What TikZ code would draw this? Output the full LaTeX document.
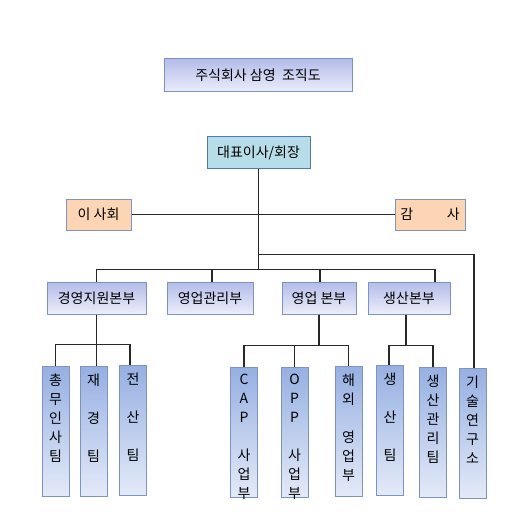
\documentclass[tikz,border=0pt]{standalone}
\usepackage{fontspec}
\setmainfont{Noto Sans CJK KR}
\usetikzlibrary{positioning,calc}
\newlength{\px}
\setlength{\px}{0.75pt}
\definecolor{headtop}{RGB}{180,188,234}
\definecolor{headbot}{RGB}{236,238,250}
\definecolor{teamtop}{RGB}{150,176,226}
\definecolor{teambot}{RGB}{228,234,248}
\definecolor{boxline}{RGB}{128,146,190}
\definecolor{ceofill}{RGB}{183,221,232}
\definecolor{ceoline}{RGB}{80,122,170}
\definecolor{sidefill}{RGB}{252,213,180}
\definecolor{linkcol}{RGB}{40,40,40}
\newcommand{\vtext}[1]{\parbox[c][116\px][t]{24\px}{\centering #1}}
\tikzset{
  basebox/.style={line width=1\px,inner sep=0pt,minimum height=32\px,
                  font=\fontsize{10.5}{14.25}\selectfont},
  headbox/.style={basebox,draw=boxline,top color=headtop,bottom color=headbot},
  ceobox/.style={basebox,draw=ceoline,fill=ceofill},
  sidebox/.style={basebox,draw=boxline,fill=sidefill,minimum height=31\px},
  teambox/.style={basebox,draw=boxline,top color=teamtop,bottom color=teambot,
                  anchor=north,minimum width=27\px,minimum height=130\px},
  link/.style={draw=linkcol,line width=1.3\px}
}

\begin{document}
\begin{tikzpicture}[x=\px,y=-\px]
  \useasboundingbox (0,0) rectangle (520,527);
  %% title
  %% ------------------------------------
  \node[headbox,minimum width=188\px,minimum height=33\px] (title) at (258,75.5)
       {주식회사 삼영\ \ 조직도};

  %% top level
  %% ------------------------------------
  \node[ceobox,minimum width=103\px] (ceo)  at (258.5,153)  {대표이사/회장};
  \node[sidebox,minimum width=65\px] (board) at (98.5,214.5) {이 사회};
  \node[sidebox,minimum width=70\px] (audit) at (430,214.5)  {감\hspace{2.4em}사};

  %% departments
  %% ------------------------------------
  \node[headbox,minimum width=99\px] (mgmt)  at (96.5,298) {경영지원본부};
  \node[headbox,minimum width=86\px] (sadm)  at (210,298)  {영업관리부};
  \node[headbox,minimum width=74\px] (sales) at (319,298)  {영업 본부};
  \node[headbox,minimum width=82\px] (prod)  at (409,298)  {생산본부};

  %% teams
  %% ------------------------------------
  \node[teambox] (gen)  at (55.5,366)  {\vtext{총\\무\\인\\사\\팀}};
  \node[teambox] (fin)  at (93.5,366)  {\vtext{재\\~\\경\\~\\팀}};
  \node[teambox] (it)   at (133,365)   {\vtext{전\\~\\산\\~\\팀}};
  \node[teambox] (cap)  at (244,367)   {\vtext{C\\A\\P\\~\\사\\업\\부}};
  \node[teambox] (opp)  at (294.5,367) {\vtext{O\\P\\P\\~\\사\\업\\부}};
  \node[teambox] (ovs)  at (348.5,366) {\vtext{해\\외\\~\\영\\업\\부}};
  \node[teambox] (mfg)  at (390,365)   {\vtext{생\\~\\산\\~\\팀}};
  \node[teambox] (pctl) at (433,367)   {\vtext{생\\산\\관\\리\\팀}};
  \node[teambox] (lab)  at (472.5,368) {\vtext{기\\술\\연\\구\\소}};

  %% connectors
  %% ------------------------------------
  \coordinate (split) at ($(ceo.south)+(0,85)$);
  \coordinate (hub)   at ($(ceo.south)+(0,100)$);
  \draw[link] (board.east) -- (audit.west);
  \draw[link] (ceo.south) -- (hub);
  \draw[link] (split) -| ($(lab.north)+(1.5,0)$);
  \draw[link] (hub) -| (mgmt.north);
  \draw[link] (hub) -| ($(sadm.north)+(2,0)$);
  \draw[link] (hub) -| ($(sales.north)+(1,0)$);
  \draw[link] (hub) -| ($(prod.north)+(26,0)$);

  \draw[link] (mgmt.south) -- ++(0,30) -| (gen.north);
  \draw[link] (mgmt.south) -- ++(0,30) -| ($(it.north)+(-3,0)$);
  \draw[link] (mgmt.south) -- (mgmt.south |- fin.north);

  \draw[link] (sales.south) -- ++(0,31) -| (cap.north);
  \draw[link] (sales.south) -- ++(0,31) -| (ovs.north);
  \draw[link] (sales.south) ++(0,31) -| (opp.north);

  \draw[link] ($(prod.south)+(-3,0)$) -- ++(0,31) -| ($(mfg.north)+(-1,0)$);
  \draw[link] ($(prod.south)+(-3,0)$) -- ++(0,31) -| (pctl.north);
\end{tikzpicture}
\end{document}
